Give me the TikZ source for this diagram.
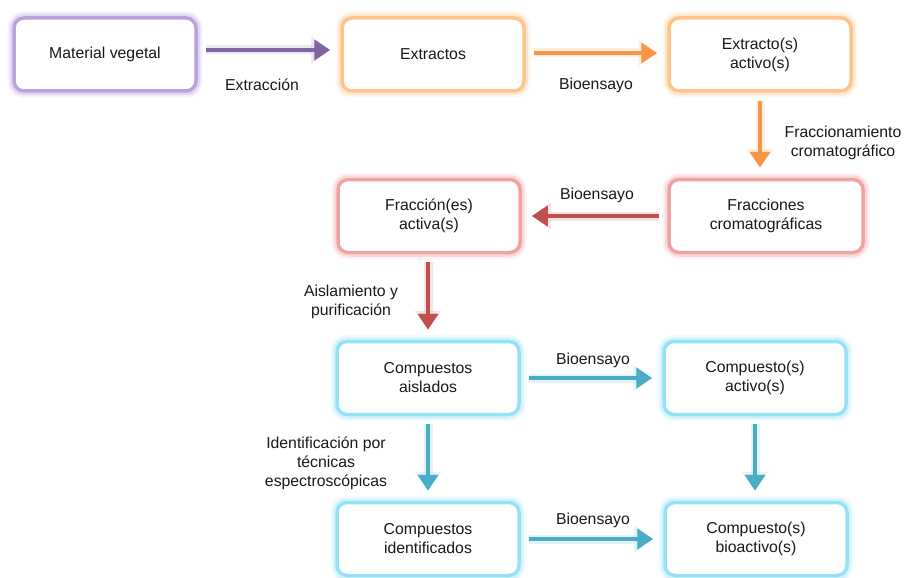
\documentclass[tikz,border=0pt]{standalone}
\usepackage{fontspec}
\setmainfont{Liberation Sans}
\usetikzlibrary{arrows.meta,positioning}
\definecolor{lila}{HTML}{B9A3DD}
\definecolor{lilaarr}{HTML}{8064A2}
\definecolor{naranja}{HTML}{FFC48C}
\definecolor{naranjaarr}{HTML}{F79646}
\definecolor{rojo}{HTML}{F2A2A2}
\definecolor{rojoarr}{HTML}{C0504D}
\definecolor{celeste}{HTML}{96E2F5}
\definecolor{celestearr}{HTML}{4BACC6}

\begin{document}
\begin{tikzpicture}[x=1pt, y=-1pt,
  every node/.style={font=\fontsize{15.8}{19}\selectfont, align=center, text=black!90},
  caja/.style={rounded corners=10pt, minimum width=182pt, minimum height=73pt,
    fill=white, draw=#1, line width=3.5pt,
    preaction={draw=#1, line width=13pt, opacity=0.15},
    preaction={draw=#1, line width=8.5pt, opacity=0.3}},
  flecha/.style={line width=4.3pt, draw=#1, shorten <=8pt, shorten >=10pt,
    -{Triangle[length=16pt, width=20pt]},
    preaction={draw=#1, line width=9pt, opacity=0.15, -{Triangle[length=19pt, width=26pt]}}}]
  \useasboundingbox (0,0) rectangle (906,578);

  % fila 1
  \node[caja=lila]    (mv)   at (105,54.5) {Material vegetal};
  \node[caja=naranja] (ext)  at (433,54.5) {Extractos};
  \node[caja=naranja] (ea)   at (760,54.5) {Extracto(s)\\activo(s)};
  % fila 2
  \node[caja=rojo]    (fa)   at (429,216) {Fracción(es)\\activa(s)};
  \node[caja=rojo, minimum width=194pt] (fc) at (766,216) {Fracciones\\cromatográficas};
  % filas 3 y 4
  \node[caja=celeste] (ca)   at (428,378) {Compuestos\\aislados};
  \node[caja=celeste] (cact) at (755,378) {Compuesto(s)\\activo(s)};
  \node[caja=celeste] (ci)   at (428,539) {Compuestos\\identificados};
  \node[caja=celeste] (cb)   at (756,539) {Compuesto(s)\\bioactivo(s)};

  % flechas
  \draw[flecha=lilaarr] ([yshift=4.5pt]mv.east) -- ([yshift=4.5pt]ext.west);
  \draw[flecha=naranjaarr] ([yshift=1.5pt]ext.east) -- ([yshift=1.5pt]ea.west);
  \draw[flecha=naranjaarr] (ea.south) -- (ea.south |- fc.north);
  \draw[flecha=rojoarr] (fc.west) -- (fa.east);
  \draw[flecha=rojoarr] (ca |- fa.south) -- (ca.north);
  \foreach \a/\b in {ca/cact, ci/cb}
    \draw[flecha=celestearr] (\a) -- (\b);
  \foreach \a/\b in {ca/ci, cact/cb}
    \draw[flecha=celestearr] (\a.south) -- (\a.south |- \b.north);

  % etiquetas
  \node (l1) at (262,85) {Extracción};
  \node (l2) at (596,85) {Bioensayo};
  \node (l3) at (843,143) {Fraccionamiento\\cromatográfico};
  \node (l4) at (597,195) {Bioensayo};
  \node (l5) at (351,302) {Aislamiento y\\purificación};
  \node (l6) at (593,360) {Bioensayo};
  \node (l7) at (326,463) {Identificación por\\técnicas\\espectroscópicas};
  \node (l8) at (593,520) {Bioensayo};
\end{tikzpicture}
\end{document}
